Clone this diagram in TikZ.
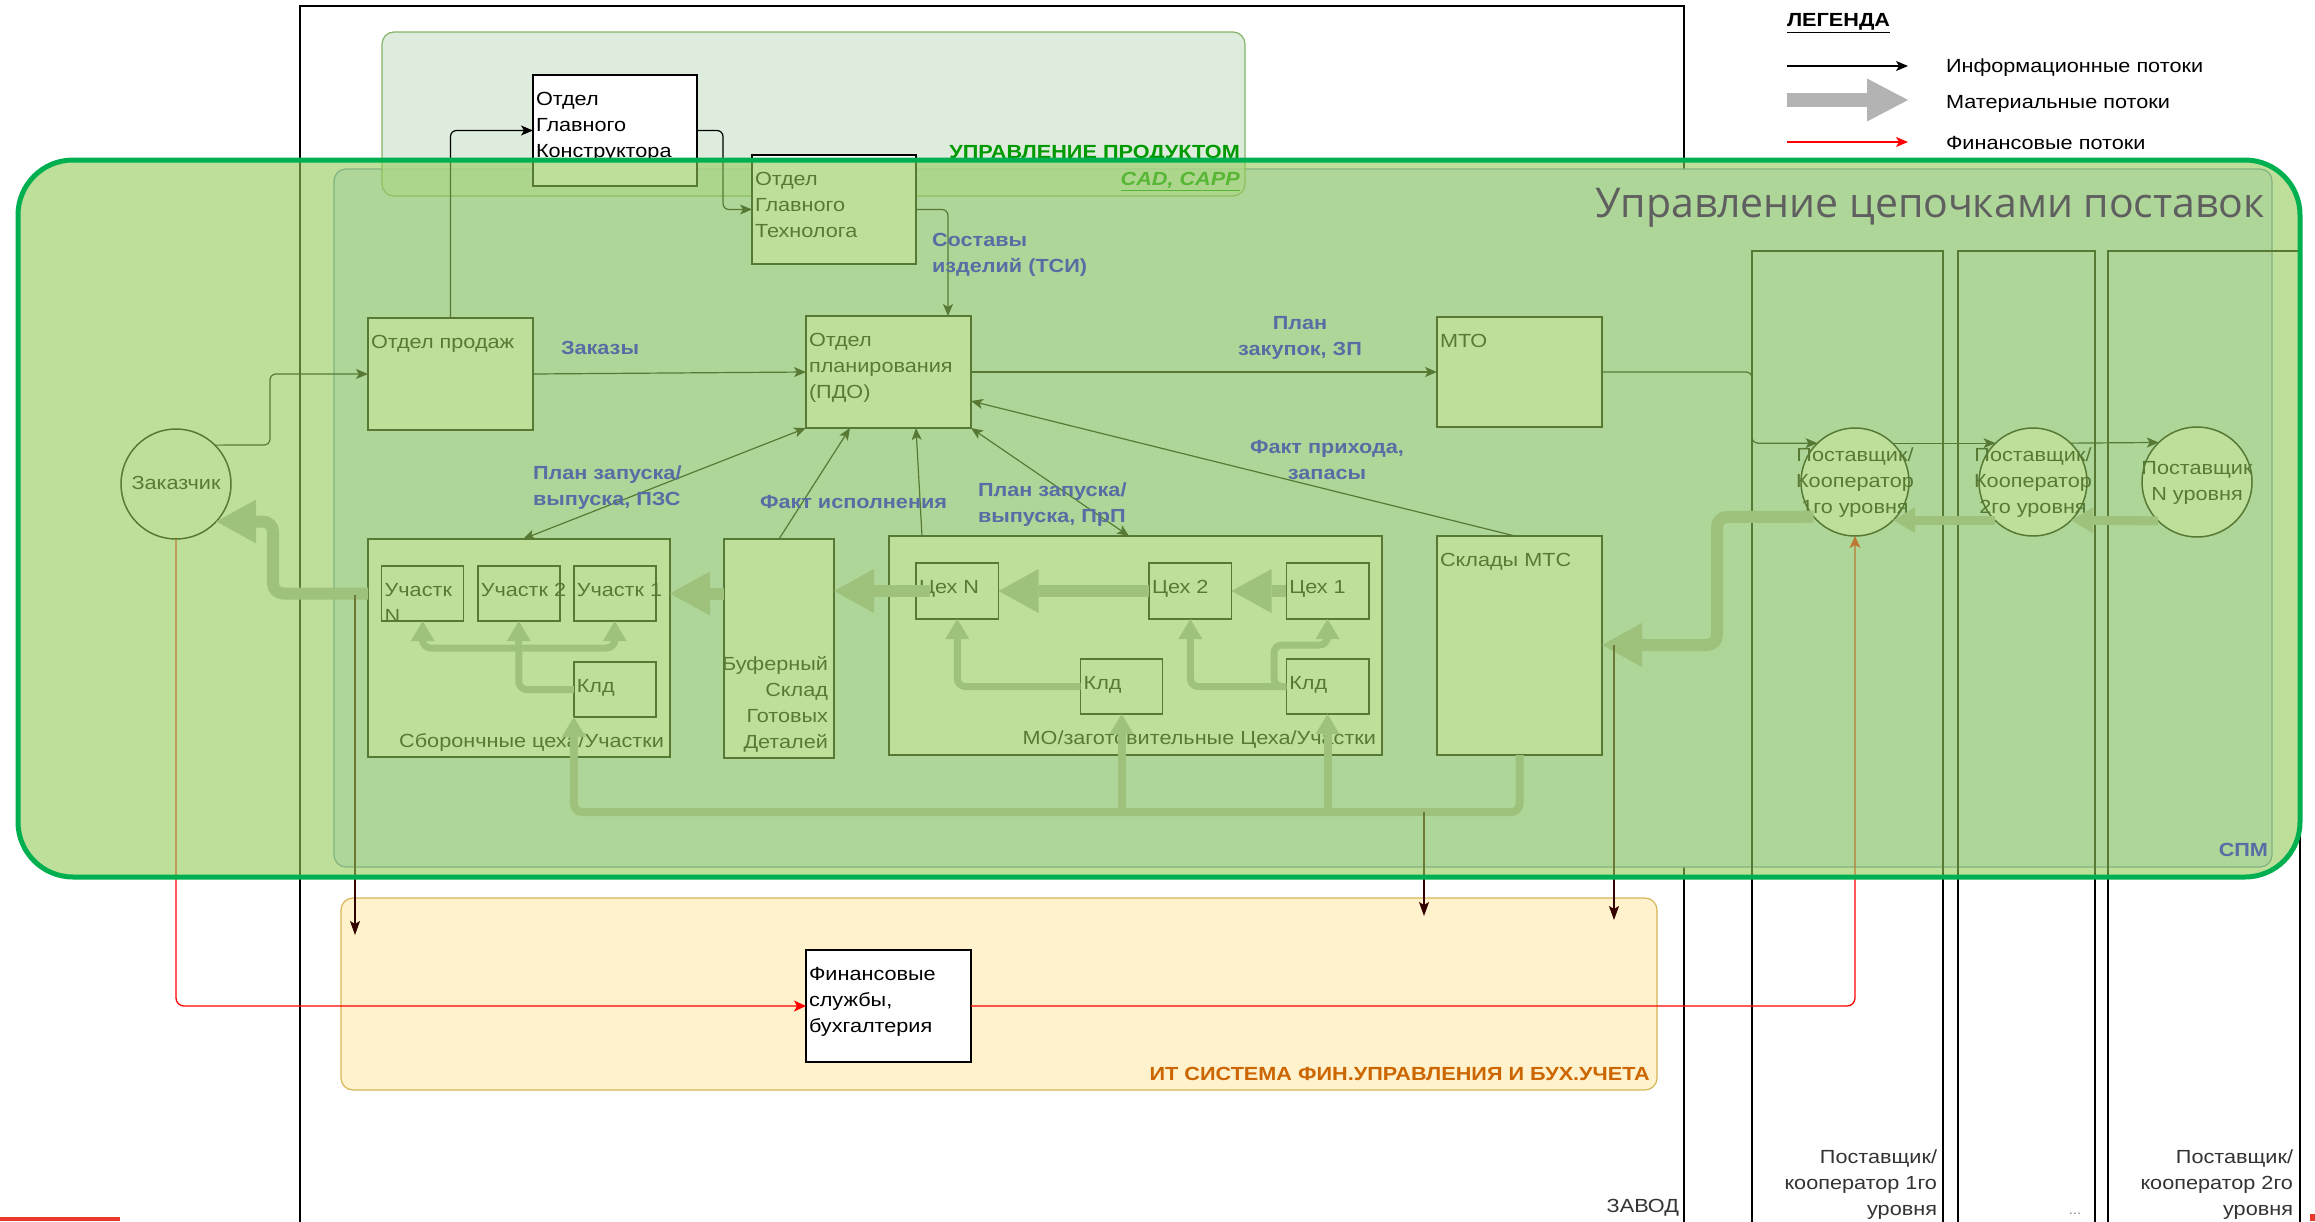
\documentclass[tikz,border=0pt]{standalone}
\usepackage{fontspec}
\setmainfont{Liberation Sans}[FakeStretch=1.14]
\newfontfamily\titlefont{Open Sans}
\usetikzlibrary{arrows.meta}
\definecolor{ovfill}{HTML}{91CB57}
\definecolor{ovborder}{HTML}{00B050}
\definecolor{lblue}{HTML}{566EA4}
\definecolor{matgrey}{HTML}{B3B3B3}
\definecolor{pmfill}{HTML}{D5E8D4}
\definecolor{pmstroke}{HTML}{82B366}
\definecolor{spmfill}{HTML}{DAE8FC}
\definecolor{spmstroke}{HTML}{6C8EBF}
\definecolor{itfill}{HTML}{FFF2CC}
\definecolor{itstroke}{HTML}{D6B656}
\definecolor{itlabel}{HTML}{CC6600}
\definecolor{pmlabel}{HTML}{009900}
\definecolor{dkred}{HTML}{330000}
\definecolor{titlegrey}{HTML}{5F5F5F}
\definecolor{coltxt}{HTML}{333333}
\definecolor{cornerred}{HTML}{E83A2A}
\newcommand{\dfont}{\fontsize{19}{26}\selectfont}
\newcommand{\bdfont}{\fontsize{19}{26}\selectfont\bfseries}
\tikzset{
  frame/.style={draw=black, line width=1.2pt},
  box/.style={draw=black, line width=1.5pt, fill=white, inner sep=0pt, outer sep=0pt, rectangle},
  rnd/.style={draw=black, line width=1.5pt, fill=white, inner sep=0pt, outer sep=0pt, circle},
  txt/.style={inner sep=0pt, outer sep=0pt, font=\dfont, text=black},
  tl/.style={txt, anchor=north west, align=left},
  brt/.style={txt, anchor=south east, align=right},
  ctr/.style={txt, anchor=center, align=center},
  lbl/.style={inner sep=0pt, outer sep=0pt, font=\bdfont, text=lblue, anchor=north west, align=left},
  lblc/.style={lbl, anchor=north, align=center},
  info/.style={draw=black, line width=1.2pt, rounded corners=6pt, -{Stealth[length=12pt,width=10pt,inset=3pt]}},
  infob/.style={draw=black, line width=1.2pt, {Stealth[length=12pt,width=10pt,inset=3pt]}-{Stealth[length=12pt,width=10pt,inset=3pt]}},
  dk/.style={draw=dkred, line width=1.2pt, -{Stealth[length=14pt,width=10pt,inset=3pt]}},
  finl/.style={draw=red, line width=1.3pt, rounded corners=8pt, -{Stealth[length=12pt,width=11pt,inset=3pt]}},
  matl/.style={draw=matgrey, line width=12pt, rounded corners=10pt, -{Triangle[length=40pt,width=44pt,line width=0pt]}},
  matm/.style={draw=matgrey, line width=9pt, rounded corners=8pt, -{Triangle[length=22pt,width=26pt,line width=0pt]}},
  mats/.style={draw=matgrey, line width=7pt, rounded corners=8pt, -{Triangle[length=20pt,width=24pt,line width=0pt]}},
  matp/.style={draw=matgrey, line width=7pt, rounded corners=8pt},
}
\begin{document}
\begin{tikzpicture}[x=1pt,y=-1pt]
\path[use as bounding box] (0,0) rectangle (2315,1221);
\clip (0,0) rectangle (2315,1221);
\fill[white] (0,0) rectangle (2315,1221);
\fill[cornerred] (0,1217) rectangle (120,1221);
\fill[cornerred] (2310,1214) rectangle (2315,1221);
% factory frame
\draw[frame] (300,6) rectangle (1684,1240);
\node[txt, anchor=base east, text=coltxt] (zavodlbl) at (1679,1212) {ЗАВОД};
% SPM panel
\draw[draw=spmstroke, fill=spmfill, line width=1.2pt, rounded corners=12pt] (334,169) rectangle (2272,867);
% product management panel
\draw[draw=pmstroke, fill=pmfill, fill opacity=0.8, line width=1.2pt, rounded corners=12pt] (382,32) rectangle (1245,196);
\node[inner sep=0pt, font=\bdfont, text=pmlabel, anchor=north east] (pmlbl) at (1240,145) {УПРАВЛЕНИЕ ПРОДУКТОМ};
\node[inner sep=0pt, font=\bdfont, text=pmlabel, anchor=north east] (cadlbl) at (1240,172) {\underline{\textit{CAD, CAPP}}};
% supplier columns
\draw[frame] (1752,251) rectangle (1943,1240);
\draw[frame] (1958,251) rectangle (2095,1240);
\draw[frame] (2108,251) rectangle (2300,1240);
\node[brt, text=coltxt] (col1lbl) at (1937,1222.8) {Поставщик/\\кооператор 1го\\уровня\strut};
\node[inner sep=0pt, font=\fontsize{13}{15}\selectfont, text=gray, anchor=base] (col2lbl) at (2075,1214) {...};
\node[brt, text=coltxt] (col3lbl) at (2293,1222.8) {Поставщик/\\кооператор 2го\\уровня\strut};
% IT panel
\draw[draw=itstroke, fill=itfill, line width=1.2pt, rounded corners=12pt] (341,898) rectangle (1657,1090);
\node[inner sep=0pt, font=\bdfont, text=itlabel, anchor=north east] (itlbl) at (1650,1067) {ИТ СИСТЕМА ФИН.УПРАВЛЕНИЯ И БУХ.УЧЕТА};
% legend
\node[tl, font=\bdfont] (leglbl) at (1787,8.6) {\strut\underline{ЛЕГЕНДА}};
\coordinate (lg1a) at (1787,66); \coordinate (lg1b) at (1908,66);
\coordinate (lg2a) at (1787,100); \coordinate (lg2b) at (1908,100);
\coordinate (lg3a) at (1787,142); \coordinate (lg3b) at (1908,142);
\draw[draw=black, line width=1.2pt, -{Stealth[length=12pt,width=10pt,inset=3pt]}] (lg1a) -- (lg1b);
\draw[draw=matgrey, line width=14pt, -{Triangle[length=41pt,width=43pt,line width=0pt]}] (lg2a) -- (lg2b);
\draw[draw=red, line width=1.2pt, -{Stealth[length=12pt,width=10pt,inset=3pt]}] (lg3a) -- (lg3b);
\node[tl] (leg1) at (1946,54.6) {\strut Информационные потоки};
\node[tl] (leg2) at (1946,90.6) {\strut Материальные потоки};
\node[tl] (leg3) at (1946,131.6) {\strut Финансовые потоки};
% boxes
\node[box, minimum width=164pt, minimum height=111pt] (ogk) at (615,130.5) {};
\node[tl] (ogkt) at ([xshift=3pt,yshift=-12pt]ogk.north west) {\strut Отдел\\Главного\\Конструктора};
\node[box, minimum width=164pt, minimum height=109pt] (ogt) at (834,209.5) {};
\node[tl] (ogtt) at ([xshift=3pt,yshift=-12pt]ogt.north west) {\strut Отдел\\Главного\\Технолога};
\node[box, minimum width=165pt, minimum height=112pt] (prod) at (450.5,374) {};
\node[tl] (prodt) at ([xshift=3pt,yshift=-12pt]prod.north west) {\strut Отдел продаж};
\node[box, minimum width=165pt, minimum height=112pt] (pdo) at (888.5,372) {};
\node[tl] (pdot) at ([xshift=3pt,yshift=-12pt]pdo.north west) {\strut Отдел\\планирования\\(ПДО)};
\node[box, minimum width=165pt, minimum height=110pt] (mto) at (1519.5,372) {};
\node[tl] (mtot) at ([xshift=3pt,yshift=-12pt]mto.north west) {\strut МТО};
\node[rnd, minimum size=110pt] (zak) at (176,484) {};
\node[ctr] (zakt) at (zak.center) {\strut Заказчик};
% assembly
\node[box, minimum width=302pt, minimum height=218pt] (sbor) at (519,648) {};
\node[brt] (sbort) at ([xshift=-6pt,yshift=1.4pt]sbor.south east) {Сборончные цеха/Участки\strut};
\node[box, minimum width=82pt, minimum height=55pt] (uN) at (422.7,593.5) {};
\node[tl] (uNt) at ([xshift=3pt,yshift=-12pt]uN.north west) {\strut Участк\\N};
\node[box, minimum width=82pt, minimum height=55pt] (u2) at (518.8,593.5) {};
\node[tl] (u2t) at ([xshift=3pt,yshift=-12pt]u2.north west) {\strut Участк 2};
\node[box, minimum width=82pt, minimum height=55pt] (u1) at (614.75,593.5) {};
\node[tl] (u1t) at ([xshift=3pt,yshift=-12pt]u1.north west) {\strut Участк 1};
\node[box, minimum width=82pt, minimum height=55pt] (kA) at (614.75,689.5) {};
\node[tl] (kAt) at ([xshift=3pt,yshift=-12pt]kA.north west) {\strut Клд};
% buffer
\node[box, minimum width=110pt, minimum height=219pt] (buf) at (779,648.5) {};
\node[brt] (buft) at ([xshift=-6pt,yshift=1.4pt]buf.south east) {Буферный\\Склад\\Готовых\\Деталей\strut};
% machining
\node[box, minimum width=493pt, minimum height=219pt] (mo) at (1135.5,645.5) {};
\node[brt] (mot) at ([xshift=-6pt,yshift=2.4pt]mo.south east) {МО/заготовительные Цеха/Участки\strut};
\node[box, minimum width=82.5pt, minimum height=56pt] (cN) at (957.25,591) {};
\node[tl] (cNt) at ([xshift=3pt,yshift=-12pt]cN.north west) {\strut Цех N};
\node[box, minimum width=82.5pt, minimum height=56pt] (c2) at (1190.3,591) {};
\node[tl] (c2t) at ([xshift=3pt,yshift=-12pt]c2.north west) {\strut Цех 2};
\node[box, minimum width=82.5pt, minimum height=56pt] (c1) at (1327.5,591) {};
\node[tl] (c1t) at ([xshift=3pt,yshift=-12pt]c1.north west) {\strut Цех 1};
\node[box, minimum width=82pt, minimum height=55pt] (kM) at (1121.65,686.5) {};
\node[tl] (kMt) at ([xshift=3pt,yshift=-12pt]kM.north west) {\strut Клд};
\node[box, minimum width=82.5pt, minimum height=55pt] (kR) at (1327.5,686.5) {};
\node[tl] (kRt) at ([xshift=3pt,yshift=-12pt]kR.north west) {\strut Клд};
% warehouses
\node[box, minimum width=165pt, minimum height=219pt] (skl) at (1519.5,645.5) {};
\node[tl] (sklt) at ([xshift=3pt,yshift=-12pt]skl.north west) {\strut Склады МТС};
% suppliers
\node[rnd, minimum size=108pt] (s1) at (1855,482) {};
\node[ctr] (s1t) at (s1.center) {\strut Поставщик/\\Кооператор\\1го уровня\strut};
\node[rnd, minimum size=108pt] (s2) at (2033,482) {};
\node[ctr] (s2t) at (s2.center) {\strut Поставщик/\\Кооператор\\2го уровня\strut};
\node[rnd, minimum size=110pt] (sN) at (2197,482) {};
\node[ctr] (sNt) at (sN.center) {\strut Поставщик\\N уровня\strut};
% finance
\node[box, minimum width=165pt, minimum height=112pt] (fin) at (888.5,1006) {};
\node[tl] (fint) at ([xshift=3pt,yshift=-12pt]fin.north west) {\strut Финансовые\\службы,\\бухгалтерия};
% information flows
\draw[info] (zak.45) -- (270,445) |- (prod.west);
\draw[info] (prod.north) |- (ogk.west);
\draw[info] (ogk.east) -- (723,130.5) |- (ogt.west);
\draw[info] (ogt.east) -| ([xshift=59.5pt]pdo.north);
\draw[info] (prod.east) -- (pdo.west);
\draw[info] (pdo.east) -- (mto.west);
\draw[info] (mto.east) -- (1752,372) |- (s1.134);
\draw[info] (s1.46) -- (s2.134);
\draw[info] (s2.46) -- (sN.134);
\draw[infob] (pdo.south west) -- ([xshift=4pt]sbor.north);
\draw[info] (buf.north) -- ([xshift=-38.5pt]pdo.south);
\draw[info] ([xshift=-213.5pt]mo.north) -- ([xshift=27.5pt]pdo.south);
\draw[infob] (pdo.south east) -- ([xshift=-6.5pt]mo.north);
\draw[info] ([xshift=-4.5pt]skl.north) -- ([yshift=-29pt]pdo.east);
% material flows
\draw[matl] (sbor.west |- uN.center) -- (273,593.5) -- (273,521.5) -- (zak.-43);
\draw[matl] (buf.west |- uN.center) -- (sbor.east |- uN.center);
\draw[matl] ([xshift=14pt]cN.west) -- (buf.east |- cN.center);
\draw[matl] (c2.west) -- (cN.east);
\draw[matl] (c1.west) -- (c2.east);
\draw[mats] (kM.west) -| (cN.south);
\draw[mats] (kR.west) -| (c2.south);
\draw[mats] (kR.west) -- (1274,686.5) -- (1274,645) -| (c1.south);
\draw[matp] (kA.west) -- (518.8,689.5) -- (518.8,648);
\draw[mats] (518.8,652) -- (u2.south);
\draw[mats] (518.8,648) -| (uN.south);
\draw[mats] (518.8,648) -| (u1.south);
\draw[mats, line width=8pt] (skl.south) |- (574,812) -- (kA.south west);
\draw[mats, line width=8pt] (1121.65,814) -- (kM.south);
\draw[mats, line width=8pt] (1327.5,814) -- (kR.south);
\draw[matl] (s1.220) -- (1717,517) -- (1717,645) -- (skl.east |- 1717,645);
\draw[matm] (s2.225) -- (s1.-45);
\draw[matm] (sN.225) -- (s2.-45);
% to IT system
\coordinate (d1a) at (355,595); \coordinate (d1b) at (355,935);
\coordinate (d2a) at (1424,812); \coordinate (d2b) at (1424,916);
\coordinate (d3a) at (1614,645); \coordinate (d3b) at (1614,920);
\draw[dk] (d1a) -- (d1b);
\draw[dk] (d2a) -- (d2b);
\draw[dk] (d3a) -- (d3b);
% financial flows
\draw[finl] (zak.south) |- (fin.west);
\draw[finl] (fin.east) -| (s1.south);
% supply chain overlay
\fill[ovfill, fill opacity=0.6, rounded corners=55pt] (18,160) rectangle (2300,877);
\draw[draw=ovborder, line width=5pt, rounded corners=55pt] (18,160) rectangle (2300,877);
% labels on top
\node[inner sep=0pt, anchor=base east, font=\titlefont\fontsize{41}{48}\selectfont, text=titlegrey] (title) at (2265,217) {Управление цепочками поставок};
\node[lbl, anchor=north east] (spmlbl) at (2268,838.6) {\strut СПМ};
\node[lbl] (l1) at (561,336.6) {\strut Заказы};
\node[lbl] (l2) at (932,228.6) {\strut Составы\\изделий (ТСИ)};
\node[lblc] (l3) at (1300,311.6) {\strut План\\закупок, ЗП};
\node[lblc] (l4) at (1327,435.6) {\strut Факт прихода,\\запасы};
\node[lbl] (l5) at (533,461.6) {\strut План запуска/\\выпуска, ПЗС};
\node[lbl] (l6) at (760,490.6) {\strut Факт исполнения};
\node[lbl] (l7) at (978,478.6) {\strut План запуска/\\выпуска, ПрП};
\end{tikzpicture}
\end{document}
